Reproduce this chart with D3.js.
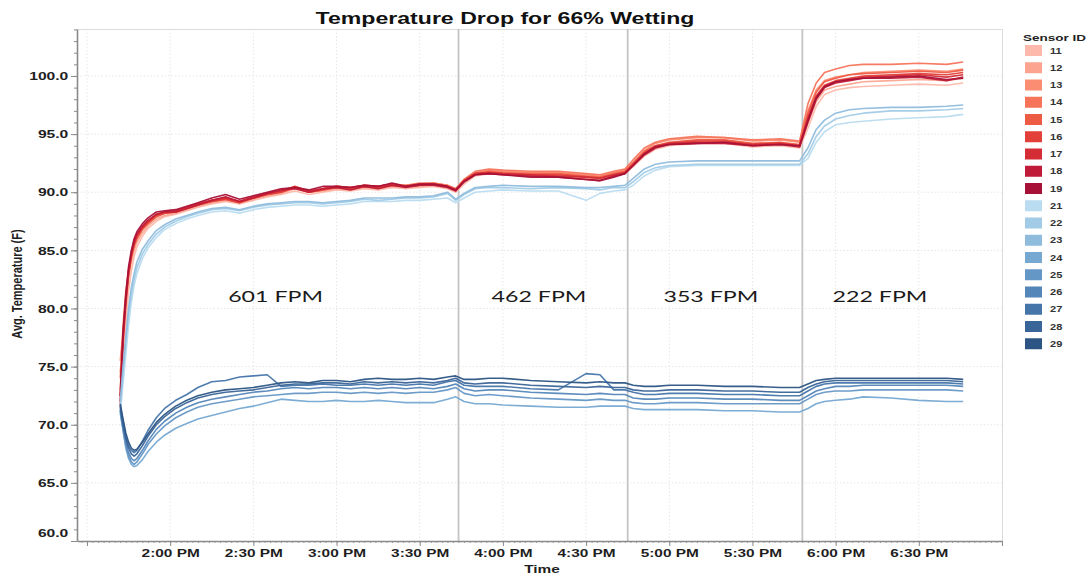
<!DOCTYPE html>
<html><head><meta charset="utf-8">
<script src="https://cdn.jsdelivr.net/npm/d3@7"></script>
<style>body{margin:0;background:#fff;} svg{display:block;}</style>
</head><body>
<svg id="chart" width="1091" height="579"></svg>
<script>
// ---------------- DATA ----------------
const chartTitle = "Temperature Drop for 66% Wetting";
const yTitle = "Avg. Temperature (F)";
const xTitle = "Time";
const legendTitle = "Sensor ID";

const times = [
"13:42","13:43","13:44","13:45","13:46","13:47","13:48","13:50","13:52","13:55",
"13:58","14:02","14:06","14:10","14:15","14:20","14:25","14:30","14:35","14:40",
"14:45","14:50","14:55","15:00","15:05","15:10","15:15","15:20","15:25","15:30",
"15:35","15:40","15:43","15:46","15:50","15:55","16:00","16:10","16:20","16:30",
"16:35","16:40","16:44","16:47","16:51","16:55","17:00","17:10","17:20","17:30",
"17:40","17:47","17:50","17:53","17:56","18:00","18:05","18:10","18:20","18:30",
"18:40","18:46"];

const sensors = ["11","12","13","14","15","16","17","18","19","21","22","23","24","25","26","27","28","29"];

const s11 = [72.0,75.5,78.5,81.5,83.2,84.5,85.3,86.2,86.9,87.5,
87.9,88.1,88.4,88.7,89.0,89.2,89.0,89.3,89.6,89.8,
90.1,89.8,90.0,90.2,90.1,90.3,90.2,90.4,90.3,90.4,
90.5,90.3,90.0,90.7,91.4,91.6,91.5,91.4,91.4,91.2,
91.1,91.4,91.6,92.2,93.1,93.7,94.0,94.2,94.2,93.9,
94.0,93.8,95.5,97.4,98.4,98.8,99.0,99.1,99.2,99.3,
99.2,99.4];
const s12 = [74.5,77.0,80.0,82.5,84.0,85.0,85.7,86.5,87.1,87.7,
88.0,88.2,88.5,88.8,89.1,89.3,89.1,89.4,89.7,89.9,
90.3,90.0,90.1,90.3,90.2,90.4,90.3,90.5,90.4,90.5,
90.6,90.4,90.1,90.9,91.5,91.7,91.6,91.5,91.5,91.3,
91.2,91.5,91.7,92.4,93.3,93.9,94.2,94.4,94.4,94.1,
94.2,94.0,96.0,97.8,98.8,99.1,99.3,99.5,99.6,99.7,
99.6,99.8];
const s13 = [75.5,78.0,81.0,83.0,84.4,85.3,86.0,86.8,87.3,87.9,
88.2,88.4,88.7,89.0,89.3,89.5,89.2,89.6,89.9,90.1,
90.5,90.1,90.3,90.5,90.4,90.6,90.5,90.7,90.6,90.7,
90.8,90.6,90.3,91.1,91.7,91.9,91.8,91.7,91.7,91.5,
91.4,91.7,91.9,92.6,93.6,94.2,94.5,94.7,94.7,94.4,
94.5,94.3,97.0,98.8,99.6,99.9,100.1,100.3,100.4,100.5,
100.4,100.6];
const s14 = [74.0,78.5,81.5,83.3,84.6,85.5,86.1,86.9,87.4,88.0,
88.2,88.4,88.7,89.0,89.3,89.5,89.2,89.6,89.9,90.1,
90.5,90.1,90.3,90.5,90.4,90.6,90.5,90.7,90.6,90.8,
90.8,90.6,90.3,91.1,91.8,92.0,91.9,91.8,91.8,91.6,
91.5,91.8,92.0,92.8,93.8,94.3,94.6,94.8,94.7,94.5,
94.6,94.4,97.6,99.4,100.3,100.6,100.9,101.0,101.0,101.1,
101.0,101.2];
const s15 = [73.0,77.8,80.8,83.0,84.4,85.4,86.0,86.8,87.3,87.9,
88.2,88.3,88.6,88.9,89.2,89.4,89.1,89.5,89.8,90.0,
90.4,90.0,90.2,90.4,90.3,90.5,90.4,90.6,90.5,90.6,
90.7,90.5,90.2,91.0,91.6,91.8,91.7,91.6,91.6,91.4,
91.3,91.6,91.8,92.5,93.5,94.0,94.3,94.5,94.5,94.2,
94.3,94.1,96.8,98.6,99.5,99.8,100.1,100.2,100.3,100.4,
100.3,100.5];
const s16 = [72.5,77.0,80.3,82.9,84.5,85.5,86.2,86.9,87.4,88.0,
88.2,88.3,88.6,88.9,89.2,89.4,89.1,89.5,89.8,90.0,
90.4,90.0,90.2,90.4,90.3,90.5,90.4,90.6,90.5,90.6,
90.7,90.5,90.2,91.0,91.6,91.7,91.6,91.5,91.5,91.3,
91.2,91.5,91.7,92.4,93.4,94.0,94.2,94.4,94.4,94.1,
94.2,94.0,96.5,98.3,99.2,99.6,99.8,100.0,100.1,100.2,
100.1,100.3];
const s17 = [71.5,77.3,80.6,83.1,84.6,85.6,86.3,87.0,87.5,88.1,
88.3,88.4,88.7,89.0,89.3,89.5,89.2,89.6,89.9,90.1,
90.5,90.1,90.3,90.5,90.4,90.6,90.5,90.7,90.5,90.7,
90.7,90.5,90.2,91.0,91.6,91.7,91.6,91.5,91.4,91.3,
91.2,91.5,91.7,92.4,93.3,93.9,94.2,94.3,94.3,94.1,
94.2,94.0,96.3,98.2,99.1,99.5,99.7,99.9,100.0,100.1,
99.9,100.1];
const s18 = [72.0,77.6,80.9,83.3,84.8,85.8,86.4,87.1,87.6,88.1,
88.3,88.3,88.6,88.9,89.3,89.6,89.2,89.5,89.9,90.2,
90.3,90.0,90.3,90.4,90.2,90.5,90.3,90.6,90.4,90.6,
90.6,90.4,90.1,90.9,91.5,91.6,91.5,91.4,91.3,91.1,
91.0,91.4,91.6,92.3,93.2,93.8,94.1,94.2,94.2,94.0,
94.1,93.9,96.0,98.0,99.0,99.4,99.6,99.8,99.8,99.9,
99.6,99.9];
const s19 = [72.5,77.9,81.2,83.6,85.0,86.0,86.6,87.3,87.8,88.3,
88.4,88.5,88.8,89.1,89.5,89.8,89.4,89.7,90.0,90.3,
90.4,90.2,90.5,90.5,90.4,90.6,90.5,90.8,90.5,90.7,
90.7,90.5,90.2,90.9,91.5,91.6,91.5,91.3,91.3,91.1,
91.0,91.3,91.6,92.3,93.3,93.9,94.1,94.2,94.3,94.0,
94.1,94.0,96.2,98.1,99.1,99.5,99.7,99.8,99.9,100.0,
99.7,99.8];
const s21 = [71.0,73.5,76.0,78.5,80.5,82.0,83.0,84.3,85.2,86.1,
86.8,87.3,87.7,88.0,88.3,88.4,88.2,88.5,88.7,88.8,
88.9,88.9,88.8,88.9,89.0,89.2,89.2,89.2,89.3,89.3,
89.4,89.5,89.1,89.5,90.0,90.1,90.2,90.1,90.1,89.3,
89.9,90.1,90.2,90.6,91.4,91.9,92.2,92.3,92.3,92.3,
92.3,92.3,92.9,94.3,95.2,95.8,96.0,96.1,96.3,96.4,
96.5,96.7];
const s22 = [71.5,74.5,77.0,79.5,81.2,82.5,83.5,84.7,85.5,86.4,
87.0,87.5,87.9,88.2,88.5,88.6,88.4,88.7,88.9,89.0,
89.1,89.1,89.0,89.1,89.2,89.4,89.3,89.4,89.5,89.5,
89.6,89.9,89.3,89.8,90.3,90.4,90.4,90.3,90.4,90.3,
90.2,90.4,90.4,90.9,91.7,92.1,92.3,92.4,92.4,92.4,
92.4,92.4,93.3,94.8,95.7,96.3,96.6,96.8,97.0,97.0,
97.1,97.2];
const s23 = [72.0,75.0,77.5,80.0,81.8,83.0,84.0,85.1,85.8,86.7,
87.2,87.7,88.0,88.3,88.6,88.7,88.5,88.8,89.0,89.1,
89.2,89.2,89.1,89.2,89.3,89.5,89.5,89.5,89.6,89.6,
89.7,90.0,89.4,89.9,90.4,90.5,90.6,90.5,90.5,90.4,
90.4,90.5,90.6,91.2,92.0,92.4,92.6,92.7,92.7,92.7,
92.7,92.7,93.8,95.4,96.2,96.8,97.1,97.2,97.3,97.3,
97.4,97.5];
const s24 = [71.0,69.5,68.0,67.1,66.6,66.4,66.5,67.0,67.7,68.5,
69.1,69.7,70.1,70.5,70.8,71.1,71.4,71.6,71.9,72.2,
72.1,72.0,72.0,72.1,72.0,72.0,72.1,72.0,71.9,71.9,
71.9,72.2,72.4,72.0,71.8,71.8,71.7,71.6,71.5,71.5,
71.6,71.6,71.6,71.4,71.3,71.3,71.3,71.3,71.2,71.2,
71.1,71.1,71.4,71.8,72.0,72.1,72.2,72.4,72.3,72.1,
72.0,72.0];
const s25 = [71.2,69.6,68.2,67.3,66.8,66.6,66.8,67.5,68.3,69.2,
69.9,70.6,71.1,71.5,71.8,72.0,72.2,72.4,72.5,72.6,
72.7,72.7,72.8,72.8,72.7,72.8,72.7,72.8,72.7,72.8,
72.8,73.0,73.2,72.7,72.5,72.6,72.5,72.3,72.2,72.1,
72.2,72.1,72.1,71.9,71.8,71.8,71.9,71.9,71.8,71.8,
71.8,71.8,72.2,72.6,72.8,72.9,72.9,73.0,73.0,73.0,
73.0,72.9];
const s26 = [71.3,69.8,68.5,67.6,67.1,66.9,67.1,67.8,68.6,69.6,
70.3,71.0,71.5,71.9,72.2,72.4,72.6,72.8,72.9,73.1,
73.2,73.1,73.2,73.2,73.1,73.2,73.1,73.2,73.1,73.2,
73.1,73.3,73.5,73.1,72.9,73.0,73.0,72.8,72.7,72.6,
72.7,72.6,72.6,72.3,72.2,72.2,72.3,72.3,72.2,72.2,
72.1,72.1,72.5,72.9,73.1,73.3,73.3,73.4,73.4,73.4,
73.4,73.3];
const s27 = [71.6,70.3,69.0,68.2,67.8,67.6,67.8,68.6,69.5,70.6,
71.4,72.1,72.6,73.2,73.7,73.8,74.1,74.2,74.3,73.3,
73.4,73.4,73.5,73.4,73.4,73.5,73.4,73.5,73.4,73.5,
73.4,73.7,73.8,73.4,73.3,73.3,73.3,73.1,73.0,74.4,
74.3,73.0,73.0,72.8,72.6,72.6,72.7,72.7,72.6,72.6,
72.5,72.5,72.9,73.3,73.5,73.6,73.6,73.6,73.6,73.6,
73.6,73.5];
const s28 = [71.5,70.0,68.8,68.0,67.5,67.3,67.5,68.2,69.0,70.0,
70.7,71.4,71.9,72.3,72.6,72.8,72.9,73.0,73.2,73.4,
73.5,73.5,73.6,73.6,73.5,73.7,73.6,73.7,73.6,73.7,
73.6,73.8,74.0,73.6,73.5,73.6,73.6,73.4,73.3,73.2,
73.3,73.2,73.2,73.0,72.9,72.9,73.0,73.0,72.9,72.9,
72.8,72.8,73.2,73.5,73.7,73.8,73.8,73.8,73.8,73.8,
73.8,73.7];
const s29 = [71.8,70.5,69.3,68.5,68.0,67.8,67.9,68.5,69.2,70.2,
70.9,71.6,72.1,72.5,72.8,73.0,73.1,73.2,73.4,73.6,
73.7,73.6,73.8,73.8,73.7,73.9,74.0,73.9,73.9,74.0,
73.9,74.1,74.2,73.9,73.9,74.0,74.0,73.8,73.7,73.6,
73.7,73.6,73.6,73.4,73.3,73.3,73.4,73.4,73.3,73.3,
73.2,73.2,73.5,73.8,73.9,74.0,74.0,74.0,74.0,74.0,
74.0,73.9];

const yTicks = [60,65,70,75,80,85,90,95,100];
const xTickTimes = ["13:30","14:00","14:30","15:00","15:30","16:00","16:30","17:00","17:30","18:00","18:30","19:00"];
const xLabeledTimes = ["14:00","14:30","15:00","15:30","16:00","16:30","17:00","17:30","18:00","18:30"];
const phaseBoundaries = ["15:44","16:45","17:48"];
const phaseLabels = ["601 FPM","462 FPM","353 FPM","222 FPM"];
const phaseLabelTimes = ["14:38","16:13","17:15","18:16"];

// ---------------- STYLE / LAYOUT ----------------
const colors = ["#fdb9ab","#fca48f","#fb8d73","#f6745a","#ee5b44","#e3403a","#d42d35","#c01b38","#a81137",
                "#b9dcf0","#a1cbe6","#8fbcdd","#76a8d2","#6597c6","#5486b9","#4675aa","#3a6598","#2c5585"];
const seriesValues = [s11,s12,s13,s14,s15,s16,s17,s18,s19,s21,s22,s23,s24,s25,s26,s27,s28,s29];
const FONT = "'Liberation Sans', Arial, sans-serif";
const M = {left:77, right:1002, top:29, bottom:541};
const parse = s => { const [h,m] = s.split(":").map(Number); return new Date(2020,0,1,h,m); };

const svg = d3.select("#chart");
const x = d3.scaleTime().domain([new Date(2020,0,1,13,26,24), new Date(2020,0,1,19,0)]).range([M.left, M.right]);
const y = d3.scaleLinear().domain([60, 104.04]).range([M.bottom, M.top]);

// gridlines
const grid = svg.append("g");
grid.selectAll("line.h").data(yTicks.filter(v => v > 60)).join("line").attr("class","h")
  .attr("x1", M.left).attr("x2", M.right).attr("y1", d => y(d)).attr("y2", d => y(d))
  .attr("stroke", "#e6e6e6").attr("stroke-dasharray", "1.5,2");
grid.selectAll("line.v").data(xTickTimes.slice(0, -1).map(parse)).join("line").attr("class","v")
  .attr("x1", d => x(d)).attr("x2", d => x(d)).attr("y1", M.top).attr("y2", M.bottom)
  .attr("stroke", "#e6e6e6").attr("stroke-dasharray", "1.5,2");
// frame
svg.append("line").attr("x1", M.left).attr("x2", M.right).attr("y1", M.top + 0.5).attr("y2", M.top + 0.5).attr("stroke", "#dcdcdc");
svg.append("line").attr("x1", M.right + 0.5).attr("x2", M.right + 0.5).attr("y1", M.top).attr("y2", M.bottom).attr("stroke", "#dcdcdc");

// phase boundaries
svg.append("g").selectAll("line").data(phaseBoundaries.map(parse)).join("line")
  .attr("x1", d => x(d)).attr("x2", d => x(d)).attr("y1", M.top).attr("y2", M.bottom)
  .attr("stroke", "#c4c4c4").attr("stroke-width", 1.8);

// series lines
const tParsed = times.map(parse);
const line = d3.line().x((d, i) => x(tParsed[i])).y(d => y(d));
svg.append("g").selectAll("path").data(seriesValues).join("path")
  .attr("d", d => line(d)).attr("fill", "none")
  .attr("stroke", (d, i) => colors[i]).attr("stroke-width", 1.6)
  .attr("stroke-linejoin", "round").attr("opacity", 0.95);

// phase labels
phaseLabels.forEach((lab, i) => {
  svg.append("g").attr("transform", `translate(${x(parse(phaseLabelTimes[i]))},302)`)
    .append("text").attr("text-anchor", "middle").attr("transform", "scale(1.45,1)")
    .style("font-family", "Lato, 'Open Sans', sans-serif").style("font-size", "16px").attr("fill", "#1a1a1a")
    .text(lab);
});

// helpers
function styleAxis(g, labelSize, sx, xShift) {
  g.select(".domain").attr("stroke", "#8a8a8a").attr("stroke-width", 1.6);
  g.selectAll(".tick line").attr("stroke", "#8a8a8a");
  g.selectAll(".tick text").style("font-family", FONT).style("font-weight", "bold")
    .style("font-size", labelSize + "px").attr("fill", "#1e1e1e")
    .attr("transform", `scale(${sx},1)`);
  if (xShift !== undefined) g.selectAll(".tick text").attr("x", xShift / sx);
}

// x axis minor ticks
const xMinor = svg.append("g").attr("transform", `translate(0,${M.bottom})`)
  .call(d3.axisBottom(x).ticks(d3.timeMinute.every(2)).tickSize(2).tickFormat(""));
xMinor.select(".domain").remove();
xMinor.selectAll(".tick line").attr("stroke", "#a0a0a0");
// x axis major
const fmt = d3.timeFormat("%-I:%M %p");
const xAx = svg.append("g").attr("transform", `translate(0,${M.bottom})`)
  .call(d3.axisBottom(x).tickValues(xTickTimes.map(parse)).tickSize(5).tickSizeOuter(0).tickPadding(3)
    .tickFormat(d => xLabeledTimes.includes(d3.timeFormat("%H:%M")(d)) ? fmt(d) : ""));
styleAxis(xAx, 11, 1.4);

// y axis minor
const yMinor = svg.append("g").attr("transform", `translate(${M.left},0)`)
  .call(d3.axisLeft(y).tickValues(d3.range(60, 105, 1)).tickSize(3).tickFormat(""));
yMinor.select(".domain").remove();
yMinor.selectAll(".tick line").attr("stroke", "#8a8a8a");
// y axis major
const yAx = svg.append("g").attr("transform", `translate(${M.left},0)`)
  .call(d3.axisLeft(y).tickValues(yTicks).tickSize(6).tickSizeOuter(0).tickFormat(d3.format(".1f")));
styleAxis(yAx, 11.5, 1.36, -8.7);
yAx.selectAll(".tick").filter(d => d === 60).select("text").attr("y", -8);

// titles
svg.append("g").attr("transform", "translate(505,24)").append("text")
  .attr("text-anchor", "middle").attr("transform", "scale(1.4,1)")
  .style("font-family", FONT).style("font-weight", "bold").style("font-size", "16.5px").attr("fill", "#111")
  .text(chartTitle);
svg.append("g").attr("transform", "translate(542,573)").append("text")
  .attr("text-anchor", "middle").attr("transform", "scale(1.4,1)")
  .style("font-family", FONT).style("font-weight", "bold").style("font-size", "11px").attr("fill", "#1e1e1e")
  .text(xTitle);
svg.append("g").attr("transform", "translate(21.5,284) rotate(-90)").append("text")
  .attr("text-anchor", "middle").attr("transform", "scale(1,1.25)")
  .style("font-family", FONT).style("font-weight", "bold").style("font-size", "11px").attr("fill", "#1e1e1e")
  .text(yTitle);

// legend
const leg = svg.append("g");
leg.append("g").attr("transform", "translate(1023,41)").append("text")
  .attr("transform", "scale(1.42,1)")
  .style("font-family", FONT).style("font-weight", "bold").style("font-size", "9.5px").attr("fill", "#222")
  .text(legendTitle);
sensors.forEach((id, i) => {
  const cy = 50.5 + i * 17.25;
  leg.append("rect").attr("x", 1025).attr("y", cy - 5.5).attr("width", 17).attr("height", 11).attr("fill", colors[i]);
  leg.append("g").attr("transform", `translate(1050,${cy + 3})`).append("text")
    .attr("transform", "scale(1.3,1)")
    .style("font-family", FONT).style("font-weight", "bold").style("font-size", "8.5px").attr("fill", "#333")
    .text(id);
});
</script>
</body></html>
